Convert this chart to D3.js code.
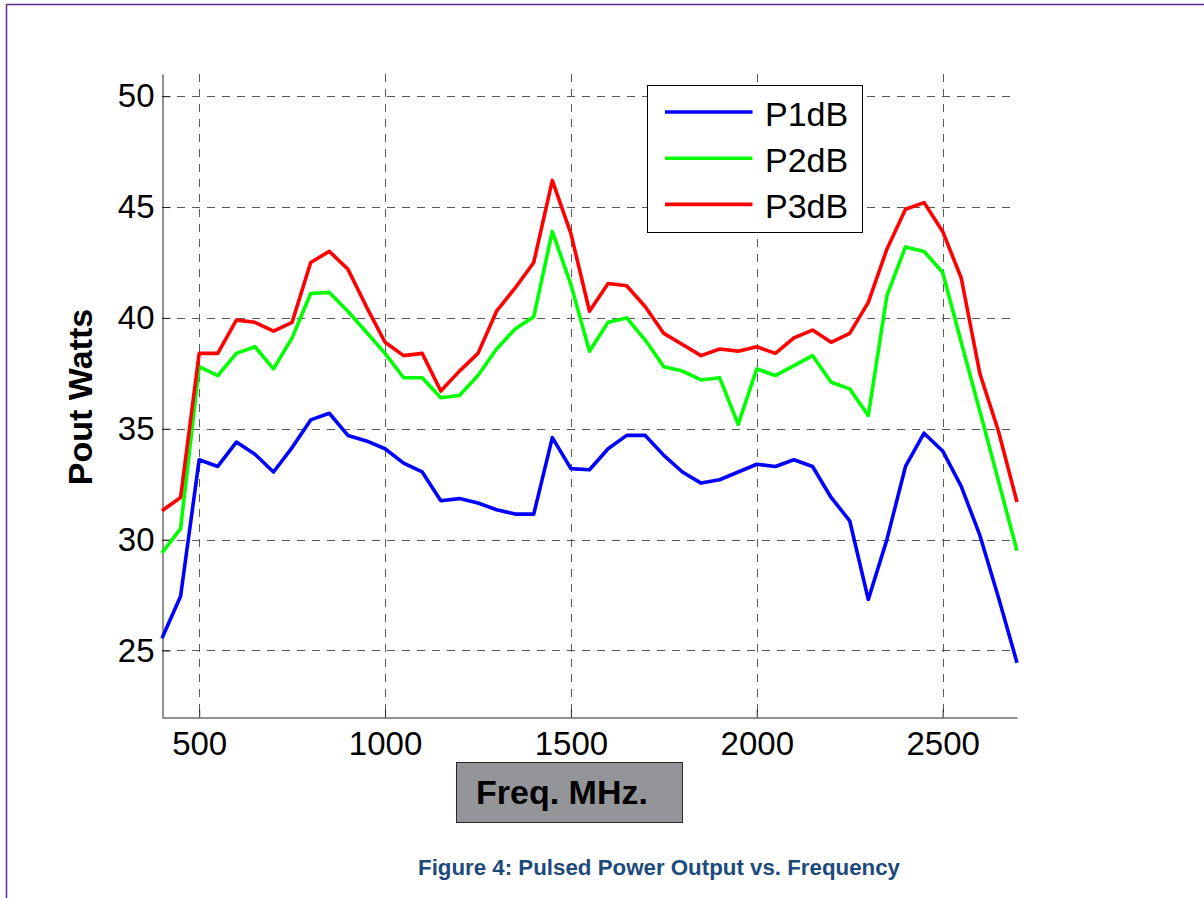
<!DOCTYPE html>
<html>
<head>
<meta charset="utf-8">
<script src="https://cdn.jsdelivr.net/npm/d3@7"></script>
<style>
    body { margin: 0; background: #fff; }
    svg { display: block; font-family: "Liberation Sans", Arial, sans-serif; }
</style>
</head>
<body>
<div id="root"></div>
<script>
// frequency points (MHz)
const freqs = [400, 450, 500, 550, 600, 650, 700, 750, 800, 850, 900, 950,
    1000, 1050, 1100, 1150, 1200, 1250, 1300, 1350, 1400, 1450,
    1500, 1550, 1600, 1650, 1700, 1750, 1800, 1850, 1900, 1950,
    2000, 2050, 2100, 2150, 2200, 2250, 2300, 2350, 2400, 2450,
    2500, 2550, 2600, 2650, 2700];

const p1dB = [25.55, 27.45, 33.6, 33.3, 34.4, 33.85, 33.05, 34.15, 35.4, 35.7, 34.7, 34.45,
    34.1, 33.45, 33.05, 31.75, 31.85, 31.65, 31.35, 31.15, 31.15, 34.6,
    33.2, 33.15, 34.1, 34.7, 34.7, 33.8, 33.05, 32.55, 32.7, 33.05,
    33.4, 33.3, 33.6, 33.3, 31.9, 30.85, 27.3, 30.0, 33.3, 34.8,
    34.0, 32.4, 30.2, 27.4, 24.45];

const p2dB = [29.4, 30.5, 37.8, 37.4, 38.4, 38.7, 37.7, 39.1, 41.1, 41.15, 40.3, 39.35,
    38.4, 37.3, 37.3, 36.4, 36.5, 37.4, 38.6, 39.5, 40.05, 43.9,
    41.5, 38.5, 39.8, 40.0, 39.0, 37.8, 37.6, 37.2, 37.3, 35.2,
    37.7, 37.4, 37.85, 38.3, 37.1, 36.8, 35.6, 41.0, 43.2, 43.0,
    42.05, 38.9, 35.8, 32.65, 29.5];

const p3dB = [31.3, 31.9, 38.4, 38.4, 39.9, 39.8, 39.4, 39.8, 42.5, 43.0, 42.2, 40.5,
    38.9, 38.3, 38.4, 36.7, 37.6, 38.4, 40.3, 41.35, 42.5, 46.2,
    43.8, 40.3, 41.55, 41.45, 40.5, 39.3, 38.8, 38.3, 38.6, 38.5,
    38.7, 38.4, 39.1, 39.45, 38.9, 39.3, 40.7, 43.1, 44.9, 45.2,
    43.9, 41.8, 37.5, 34.9, 31.7];

const seriesNames = ["P1dB", "P2dB", "P3dB"];
const seriesColors = ["#0000ff", "#00ff00", "#ff0000"];
const xTicks = [500, 1000, 1500, 2000, 2500];
const yTicks = [25, 30, 35, 40, 45, 50];

const width = 1204, height = 898;
const plot = { left: 162, right: 1017, top: 74, bottom: 717 };

const svg = d3.select("#root")
    .append("svg")
    .attr("width", width)
    .attr("height", height);

// page frame (only top/left edge visible)
svg.append("rect")
    .attr("x", 6.5).attr("y", 4.5)
    .attr("width", 1400).attr("height", 1200)
    .attr("fill", "none")
    .attr("stroke", "#5c2d91")
    .attr("stroke-width", 1.5);

const x = d3.scaleLinear().domain([400, 2700]).range([plot.left, plot.right]);
const y = d3.scaleLinear().domain([22, 51]).range([plot.bottom, plot.top]);

// dashed grid
const grid = svg.append("g")
    .attr("stroke", "#5a5a5a")
    .attr("stroke-width", 1)
    .attr("stroke-dasharray", "8,7");

grid.selectAll(".vgrid")
    .data(xTicks)
    .enter()
    .append("line")
        .attr("class", "vgrid")
        .attr("x1", d => Math.round(x(d)) + 0.5)
        .attr("x2", d => Math.round(x(d)) + 0.5)
        .attr("y1", plot.top)
        .attr("y2", plot.bottom);

grid.selectAll(".hgrid")
    .data(yTicks)
    .enter()
    .append("line")
        .attr("class", "hgrid")
        .attr("x1", plot.left)
        .attr("x2", plot.right)
        .attr("y1", d => Math.round(y(d)) + 0.5)
        .attr("y2", d => Math.round(y(d)) + 0.5);

// axes, matlab style: ticks pointing inward
const xAxis = d3.axisBottom(x)
    .tickValues(xTicks)
    .tickSize(-8)
    .tickSizeOuter(0)
    .tickPadding(14)
    .tickFormat(d3.format("d"));

const yAxis = d3.axisLeft(y)
    .tickValues(yTicks)
    .tickSize(-8)
    .tickSizeOuter(0)
    .tickPadding(8)
    .tickFormat(d3.format("d"));

const gx = svg.append("g")
    .attr("transform", `translate(0, ${plot.bottom + 0.5})`)
    .call(xAxis);

const gy = svg.append("g")
    .attr("transform", `translate(${plot.left + 0.5}, 0)`)
    .call(yAxis);

[gx, gy].forEach(g => {
    g.select(".domain").attr("stroke", "#222");
    g.selectAll(".tick line").attr("stroke", "#222");
    g.selectAll(".tick text")
        .attr("fill", "#000")
        .style("font-size", "33px")
        .style("font-family", "'Liberation Sans', Arial, sans-serif");
});

// data lines
const line = d3.line()
    .x((d, i) => x(freqs[i]))
    .y(d => y(d));

const allSeries = [p1dB, p2dB, p3dB];

svg.append("g")
    .selectAll("path")
    .data(allSeries)
    .enter()
    .append("path")
        .attr("d", d => line(d))
        .attr("fill", "none")
        .attr("stroke", (d, i) => seriesColors[i])
        .attr("stroke-width", 3.6)
        .attr("stroke-linejoin", "round");

// legend
const legend = svg.append("g")
    .attr("transform", "translate(647.5, 85.5)");

legend.append("rect")
    .attr("width", 215)
    .attr("height", 147)
    .attr("fill", "#fff")
    .attr("stroke", "#000")
    .attr("stroke-width", 1);

const legendRow = legend.selectAll(".row")
    .data(seriesNames)
    .enter()
    .append("g")
        .attr("class", "row")
        .attr("transform", (d, i) => `translate(0, ${26.5 + i * 46.2})`);

legendRow.append("line")
    .attr("x1", 17.5)
    .attr("x2", 105)
    .attr("stroke", (d, i) => seriesColors[i])
    .attr("stroke-width", 3.6);

legendRow.append("text")
    .attr("x", 117.5)
    .attr("y", 14)
    .style("font-size", "34px")
    .text(d => d);

// y label
svg.append("text")
    .attr("transform", "translate(92, 397) rotate(-90)")
    .attr("text-anchor", "middle")
    .style("font-size", "34px")
    .style("font-weight", "bold")
    .text("Pout Watts");

// x label in grey box
svg.append("rect")
    .attr("x", 456.5)
    .attr("y", 762.5)
    .attr("width", 226)
    .attr("height", 60)
    .attr("fill", "#939598")
    .attr("stroke", "#2a2a2a")
    .attr("stroke-width", 1);

svg.append("text")
    .attr("x", 476)
    .attr("y", 804)
    .style("font-size", "34px")
    .style("font-weight", "bold")
    .text("Freq. MHz.");

// caption
svg.append("text")
    .attr("x", 659)
    .attr("y", 875)
    .attr("text-anchor", "middle")
    .attr("fill", "#1d4a7c")
    .style("font-size", "22.3px")
    .style("font-weight", "bold")
    .text("Figure 4: Pulsed Power Output vs. Frequency");
</script>
</body>
</html>
